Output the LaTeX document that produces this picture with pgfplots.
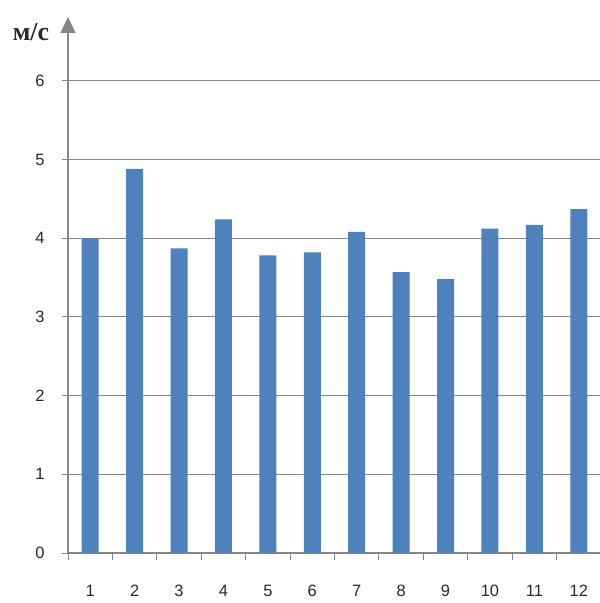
\documentclass[border=0pt]{standalone}
\usepackage{fontspec}
\setmainfont{Liberation Sans}
\newfontfamily\unitfont{Liberation Serif}
\usepackage{pgfplots}
\pgfplotsset{compat=1.18}
\usetikzlibrary{arrows.meta}

\definecolor{barblue}{RGB}{79,129,189}
\definecolor{axisgray}{RGB}{134,134,134}
\definecolor{labelgray}{RGB}{40,40,40}

\pgfplotstableread{
month speed
1  4.00
2  4.88
3  3.87
4  4.24
5  3.78
6  3.82
7  4.08
8  3.57
9  3.48
10 4.12
11 4.17
12 4.37
}\windtable

\begin{document}
\begin{tikzpicture}
\useasboundingbox (-68bp,-50bp) rectangle (532bp,553bp);
\begin{axis}[
  at={(0,0)}, anchor=south west,
  scale only axis,
  width=533bp, height=536bp,
  xmin=0.5, xmax=12.5,
  ymin=0, ymax=6.81,
  axis x line=bottom,
  axis y line=left,
  x axis line style={-, draw=axisgray, line width=1.1bp},
  y axis line style={-{Triangle[width=15bp,length=16bp]}, draw=axisgray, fill=axisgray, line width=1.1bp},
  xtick={1,...,12},
  minor xtick={0.5,1.5,...,12.5},
  major x tick style={draw=none},
  minor x tick style={draw=axisgray, line width=1bp},
  minor tick length=7bp,
  ytick={0,...,6},
  y tick style={draw=axisgray, line width=1bp},
  major tick length=6bp,
  tick align=outside,
  ymajorgrids,
  grid style={draw=axisgray, line width=1bp},
  /pgf/number format/assume math mode=true,
  tick label style={font=\fontsize{16.5}{19}\selectfont, text=labelgray},
  xticklabel style={anchor=center, yshift=-32bp},
  yticklabel style={anchor=center, xshift=-22bp},
]
\addplot[ybar, bar width=17bp, fill=barblue, draw=none] table[x=month, y=speed] {\windtable};
\end{axis}
\node[font=\unitfont\bfseries\fontsize{26}{30}\selectfont, text=labelgray] at (-37bp,521bp) {м/с};
\end{tikzpicture}
\end{document}
